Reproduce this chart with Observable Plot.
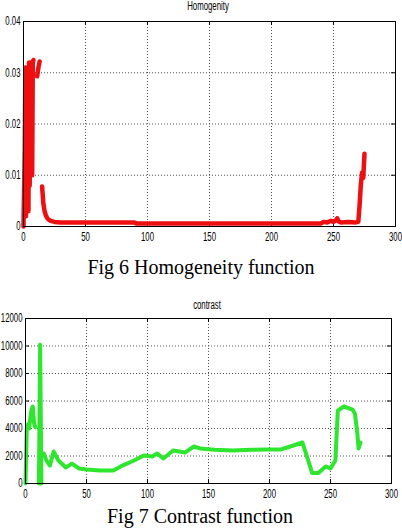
<!DOCTYPE html>
<html><head><meta charset="utf-8">
<script src="https://cdn.jsdelivr.net/npm/d3@7"></script>
<script src="https://cdn.jsdelivr.net/npm/@observablehq/plot@0.6"></script>
<style>
body{margin:0;background:#fff;}
#wrap{position:relative;width:402px;height:528px;overflow:hidden;background:#fff;}
.ttl{position:absolute;z-index:2;font-family:'Liberation Sans',sans-serif;font-size:12px;line-height:12px;color:#000;white-space:nowrap;transform:translateX(-50%) scaleX(0.65);}
.cap{position:absolute;z-index:2;font-family:'Liberation Serif',serif;font-size:20px;line-height:20px;color:#000;white-space:nowrap;transform:translateX(-50%);}
.chart{position:absolute;left:0;z-index:1;}
</style></head><body>
<div id="wrap">
  <div id="c1" class="chart" style="top:0px;"></div>
  <div id="c2" class="chart" style="top:290px;"></div>
  <div class="ttl" style="left:208px;top:0px;">Homogenity</div>
  <div class="cap" style="left:201px;top:257px;">Fig 6 Homogeneity function</div>
  <div class="ttl" style="left:207px;top:299px;">contrast</div>
  <div class="cap" style="left:200px;top:506px;">Fig 7 Contrast function</div>
</div>
<script>
// ---- Homogeneity data ----
const homX = [0,1,1.5,2,2.5,3,3.5,4,4.5,5,5.5,6,6.5,7,7.5,8,9,11,12,13,14,15,16,17,18,19,20,22,25,30,60,89,91,150,200,240,242,245,248,250,252,253,254,256,262,268,270,271,272,273,274,275];
const homY = [0,0.015,0.031,0.002,0.031,0.006,0.031,0.003,0.032,0.008,0.032,0.01,0.032,0.01,0.032,0.0325,null,0.0293,0.031,0.0322,null,0.0078,0.0045,0.003,0.0022,0.0017,0.0014,0.0011,0.0009,0.0008,0.0008,0.0008,0.0006,0.0006,0.0006,0.0006,0.0009,0.0008,0.0011,0.0009,0.0012,0.0016,0.001,0.0008,0.0009,0.0008,0.0009,0.004,0.008,0.0105,0.0095,0.0142];
const homXTicks = [0,50,100,150,200,250,300];
const homYTicks = [0,0.01,0.02,0.03,0.04];

// ---- Contrast data ----
const conX = [0,1,2,3,4,5,6,7,8,9,11,12,13,14,15,17,20,23,27,33,38,44,50,61,72,78,89,97,104,108,113,121,131,138,143,155,170,185,198,209,217,227,231,235,240,246,250,254,256,261,268,270,272,273,274.6];
const conY = [0,3900,4300,4000,4800,5400,5600,4400,4100,null,0,10100,0,null,2180,1700,1300,2330,1670,1160,1450,1090,1020,950,950,1240,1670,2040,1960,2180,1820,2400,2260,2690,2550,2450,2400,2450,2470,2470,2690,2980,1890,760,760,1240,1090,1670,5300,5600,5380,5090,3640,2550,2980];
const conXTicks = [0,50,100,150,200,250,300];
const conYTicks = [0,2000,4000,6000,8000,10000,12000];

function makeChart({xs, ys, xTicks, yTicks, yMax, color, sw, height, mt, mb, ml, mr, fmt}) {
  const data = xs.map((x, i) => ({x, y: ys[i]}));
  const width = 402;
  const fw = width - ml - mr;
  const fh = height - mt - mb;
  const svg = Plot.plot({
    width, height,
    marginTop: mt, marginBottom: mb, marginLeft: ml, marginRight: mr,
    style: {fontFamily: "'Liberation Sans',sans-serif", fontSize: "12px", background: "#fff", color: "#000", overflow: "visible"},
    x: {domain: [0, 300], label: null},
    y: {domain: [0, yMax], label: null},
    marks: [
      Plot.gridX(xTicks, {stroke: "#555", strokeOpacity: 1, strokeDasharray: "1,2"}),
      Plot.gridY(yTicks, {stroke: "#555", strokeOpacity: 1, strokeDasharray: "1,2"}),
      Plot.ruleY(yTicks, {insetRight: fw - 4, stroke: "#000"}),
      Plot.ruleY(yTicks, {insetLeft: fw - 4, stroke: "#000"}),
      Plot.ruleX(xTicks, {insetTop: fh - 4, stroke: "#000"}),
      Plot.ruleX(xTicks, {insetBottom: fh - 4, stroke: "#000"}),
      Plot.line(data, {x: "x", y: "y", stroke: color, strokeWidth: sw, strokeLinejoin: "round", strokeLinecap: "round"}),
      Plot.frame({stroke: "#000", strokeWidth: 1}),
      Plot.axisX({ticks: xTicks, tickSize: 0, tickPadding: 6, tickFormat: d => String(d)}),
      Plot.axisY({ticks: yTicks, tickSize: 0, tickPadding: 3, tickFormat: fmt})
    ]
  });
  // condense tick label glyphs horizontally (MATLAB-like narrow font)
  svg.querySelectorAll("g[aria-label$='tick label'] text").forEach(t => {
    const tr = t.getAttribute("transform");
    if (tr && tr.includes("translate")) {
      t.setAttribute("transform", tr + " scale(0.65,1)");
    } else {
      const x = +(t.getAttribute("x") || 0), y = +(t.getAttribute("y") || 0);
      t.removeAttribute("x"); t.removeAttribute("y");
      t.setAttribute("transform", `translate(${x},${y}) scale(0.65,1)`);
    }
  });
  return svg;
}

document.getElementById("c1").append(makeChart({
  xs: homX, ys: homY, xTicks: homXTicks, yTicks: homYTicks, yMax: 0.04,
  color: "#ee1010", sw: 4.5, height: 250, mt: 21, mb: 24, ml: 23, mr: 7,
  fmt: d => d === 0 ? "0" : d.toFixed(2)
}));
document.getElementById("c2").append(makeChart({
  xs: conX, ys: conY, xTicks: conXTicks, yTicks: conYTicks, yMax: 12000,
  color: "#2ee62e", sw: 4, height: 215, mt: 28, mb: 22, ml: 25, mr: 11,
  fmt: d => String(d)
}));
</script>
</body></html>
